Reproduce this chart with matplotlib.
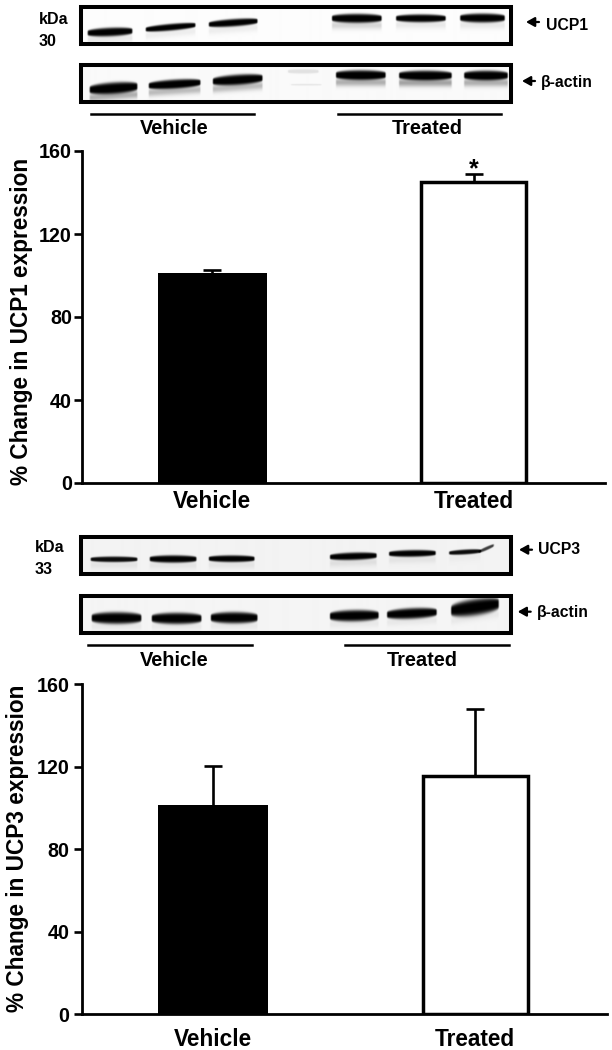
import matplotlib
matplotlib.use("Agg")
import matplotlib.pyplot as plt
import numpy as np

plt.rcParams['font.family'] = ['Liberation Sans', 'DejaVu Sans']
plt.rcParams['font.weight'] = 'bold'

W, H = 612, 1050

groups = ['Vehicle', 'Treated']
ticks = [0, 40, 80, 120, 160]
ucp1Means = [101, 145]
ucp1Errs = [1.5, 4]
ucp3Means = [101.4, 115.5]
ucp3Errs = [19, 32.4]

# bands are left, right, y at left, y at right, half height, darkness, smear below
ucp1Bands = [(87, 133, 33, 31, 3.8, 1.0, 0.08), (145, 196, 29.5, 25, 3.0, 1.0, 0.06),
             (208, 258, 24.5, 21, 3.3, 1.0, 0.06), (331, 382, 18.3, 18.3, 4.0, 1.0, 0.15),
             (395, 446, 18.3, 18.3, 3.5, 1.0, 0.08), (459, 505, 18, 18, 4.0, 1.0, 0.08)]
actin1Bands = [(89, 138, 90, 86.7, 5.0, 1.0, 0.3), (148, 201, 86, 82.7, 4.0, 1.0, 0.25),
               (212, 263, 81.7, 78.3, 4.5, 1.0, 0.25), (335, 386, 75.3, 75.3, 4.3, 1.0, 0.3),
               (398, 452, 75.7, 75.7, 4.3, 1.0, 0.35), (463, 508, 75.7, 75.7, 4.3, 1.0, 0.3),
               (287, 319, 71.7, 71.7, 2.0, 0.1, 0.0), (290, 322, 85, 85, 0.8, 0.08, 0.0)]
ucp3Bands = [(90, 138, 559.3, 559.3, 2.5, 0.95, 0.06), (149, 197, 559, 559, 3.3, 1.0, 0.06),
             (208, 255, 558.7, 558.7, 3.0, 1.0, 0.06), (329, 377, 557, 555.5, 3.3, 1.0, 0.08),
             (388, 436, 553.8, 553, 3.0, 1.0, 0.06), (448, 481, 553, 551, 2.2, 0.95, 0.03),
             (478, 494, 552, 545, 1.6, 0.75, 0.0)]
actin3Bands = [(91, 142, 618.3, 618.3, 5.2, 1.0, 0.05), (151, 202, 618.7, 618.7, 5.0, 1.0, 0.05),
               (210, 258, 618, 618, 5.0, 1.0, 0.05), (329, 379, 616.5, 615.5, 5.0, 1.0, 0.05),
               (386, 437, 615, 612.5, 4.7, 1.0, 0.05), (450, 499, 611, 604, 7.2, 1.0, 0.05)]


def blotImage(bands, x0, x1, y0, y1, paper):
    xs = np.arange(x0, x1, 0.5) + 0.25
    ys = np.arange(y0, y1, 0.5) + 0.25
    xg, yg = np.meshgrid(xs, ys)
    ink = np.zeros_like(xg)
    for left, right, yl, yr, half, dark, smear in bands:
        u = np.clip((xg - left) / (right - left), 0, 1)
        mid = yl + (yr - yl) * u
        # bands narrow to a point at both ends
        taper = 0.3 + 0.7 * np.sin(np.pi * u) ** 0.35
        edge = np.clip((xg - left) / 1.5, 0, 1) * np.clip((right - xg) / 1.5, 0, 1)
        core = np.exp(-(np.abs(yg - mid) / (1.15 * half * taper)) ** 4)
        below = np.exp(-((yg - mid - half - 3) / 4.0) ** 2)
        ink += edge * (dark * core + smear * below)
    return paper * (1 - np.clip(ink, 0, 1))


def drawBlot(ax, bands, x0, x1, y0, y1, paper):
    ax.imshow(blotImage(bands, x0, x1, y0, y1, paper), cmap='gray', vmin=0, vmax=1,
              extent=(x0, x1, y1, y0), aspect='auto', interpolation='bilinear')
    ax.add_patch(plt.Rectangle((x0, y0), x1 - x0, y1 - y0, fill=False, ec='black', lw=2.9))


def drawChart(fig, left, right, top, bottom, means, errs, label, labelX, labelY, pad, tickPad):
    ax = fig.add_axes([left / W, 1 - bottom / H, (right - left) / W, (bottom - top) / H])
    ax.patch.set_alpha(0)
    pos = [0, 1]
    ax.bar(pos[0], means[0], width=0.42, color='black', edgecolor='black', linewidth=0)
    ax.bar(pos[1], means[1], width=0.401, color='white', edgecolor='black', linewidth=2.5)
    eb = ax.errorbar(pos, means, yerr=[[0, 0], errs], fmt='none', ecolor='black',
                     elinewidth=1.9, capsize=6.6, capthick=1.9)
    # only the upper cap shows in the reference
    eb[1][0].set_visible(False)
    ax.set_xlim(-0.5, 1.5)
    ax.set_ylim(0, 160)
    ax.set_yticks(ticks)
    ax.set_xticks(pos)
    ax.set_xticklabels(groups, fontsize=16.3, fontweight='bold')
    ax.tick_params(axis='y', length=5.5, width=1.9, labelsize=14.2, pad=tickPad)
    ax.tick_params(axis='x', length=0, pad=pad)
    ax.spines['top'].set_visible(False)
    ax.spines['right'].set_visible(False)
    ax.spines['left'].set_linewidth(2.0)
    ax.spines['bottom'].set_linewidth(2.0)
    fig.text(labelX / W, 1 - labelY / H, label, rotation=90, ha='center', va='center',
             fontsize=16.3, fontweight='bold')
    return ax


fig = plt.figure(figsize=(W / 100, H / 100), dpi=100)
page = fig.add_axes([0, 0, 1, 1])

drawBlot(page, ucp1Bands, 81, 510.5, 7, 43.7, 0.99)
drawBlot(page, actin1Bands, 81, 510.5, 65.3, 102.3, 0.98)
drawBlot(page, ucp3Bands, 81, 510.5, 537, 573.7, 0.95)
drawBlot(page, actin3Bands, 81, 510.5, 596.3, 633.3, 0.96)
page.set_xlim(0, W)
page.set_ylim(H, 0)
page.axis('off')

# lines under the lanes
page.plot([91, 254], [114, 114], color='black', lw=1.8)
page.plot([338, 501], [113.5, 113.5], color='black', lw=1.8)
page.plot([88, 252], [645, 645], color='black', lw=1.8)
page.plot([345, 509], [645, 645], color='black', lw=1.8)

page.text(174, 129, 'Vehicle', ha='center', va='center', fontsize=14.4)
page.text(427, 129, 'Treated', ha='center', va='center', fontsize=14.4)
page.text(174, 660, 'Vehicle', ha='center', va='center', fontsize=14.4)
page.text(422.5, 660, 'Treated', ha='center', va='center', fontsize=14.4)

page.text(38.7, 20, 'kDa', ha='left', va='center', fontsize=11.5)
page.text(38.7, 41, '30', ha='left', va='center', fontsize=11.5)
page.text(35, 548, 'kDa', ha='left', va='center', fontsize=11.5)
page.text(35, 569, '33', ha='left', va='center', fontsize=11.5)

arrowStyle = dict(arrowstyle='-|>,head_width=0.28,head_length=0.5', color='black', lw=1.6,
                  shrinkA=0, shrinkB=0)
protLabels = [('UCP1', 546, 25.5, 526, 22), (u'\u03b2-actin', 541, 83, 522, 81),
              ('UCP3', 538, 550, 519, 549.7), (u'\u03b2-actin', 537, 612, 517.7, 611.7)]
for name, tx, ty, ax_, ay in protLabels:
    page.text(tx, ty, name, ha='left', va='center', fontsize=11.3)
    page.annotate('', xy=(ax_, ay), xytext=(ax_ + 13, ay), arrowprops=arrowStyle)

top = drawChart(fig, 81.7, 604.5, 151, 483, ucp1Means, ucp1Errs,
                '% Change in UCP1 expression', 21.5, 321.5, 5, 1.5)
top.text(1, 151, '*', ha='center', va='center', fontsize=18)
drawChart(fig, 81.7, 606.5, 684, 1014.3, ucp3Means, ucp3Errs,
          '% Change in UCP3 expression', 18, 848.3, 10, 3.5)

fig.savefig('out.png', dpi=100)
